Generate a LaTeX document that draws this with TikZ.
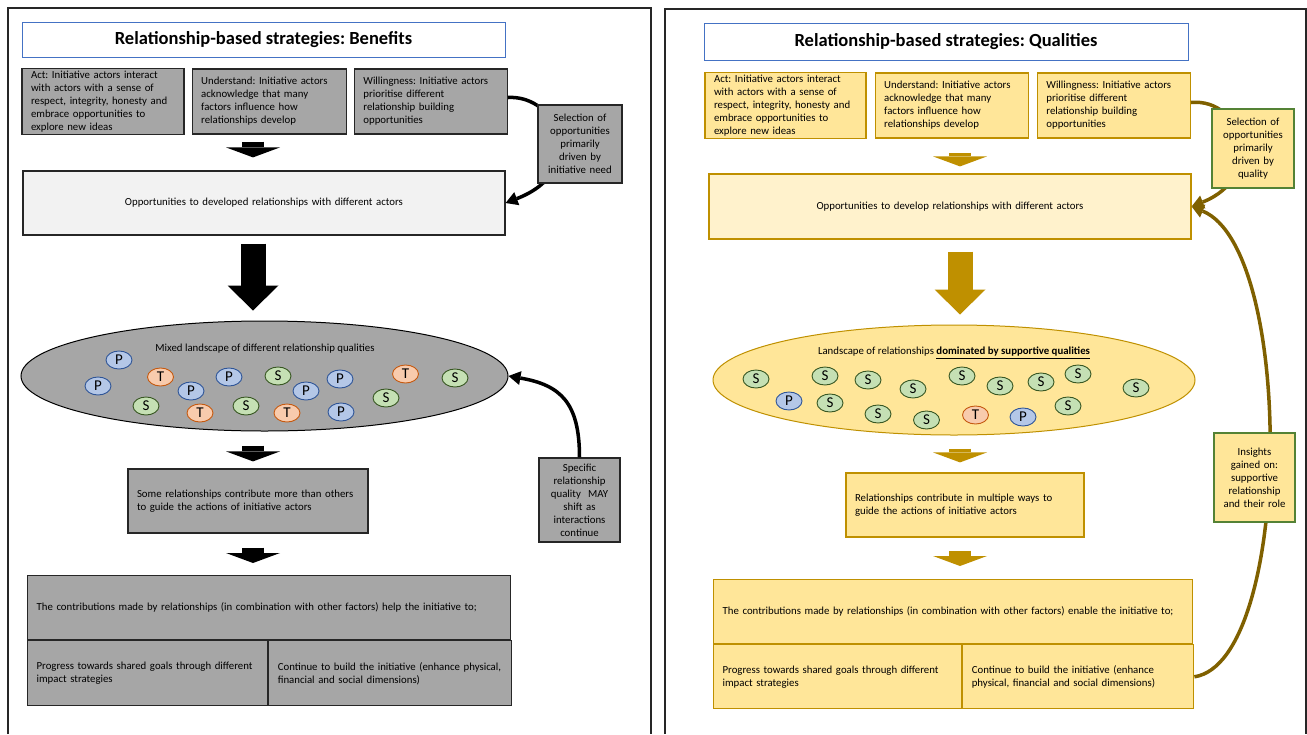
\documentclass[tikz,border=0pt]{standalone}
\usepackage{fontspec}
\setmainfont{Carlito}
\usepackage{xcolor}
\usetikzlibrary{shapes,arrows,positioning,calc,shapes.geometric,arrows.meta}
\frenchspacing

\definecolor{boxgray}{HTML}{A6A6A6}
\definecolor{oppgray}{HTML}{F2F2F2}
\definecolor{edgegray}{HTML}{262626}
\definecolor{titleblue}{HTML}{4472C4}
\definecolor{goldfill}{HTML}{FFE699}
\definecolor{creamfill}{HTML}{FFF2CC}
\definecolor{goldline}{HTML}{BF9000}
\definecolor{oliveline}{HTML}{7F6000}
\definecolor{sidegreen}{HTML}{548235}
\definecolor{pfill}{HTML}{B4C7E7}
\definecolor{pline}{HTML}{2F5597}
\definecolor{tfill}{HTML}{F8CBAD}
\definecolor{tline}{HTML}{C55A11}
\definecolor{sfill}{HTML}{C5E0B4}
\definecolor{sline}{HTML}{385723}

\begin{document}
\begin{tikzpicture}[x=1pt, y=1pt,
  txt/.style={font=\fontsize{10.8pt}{13pt}\selectfont},
  titlebox/.style={draw=titleblue, fill=white, line width=1pt, font=\fontsize{18.5pt}{21pt}\selectfont\bfseries},
  graybox/.style={draw=edgegray, fill=boxgray, rectangle, line width=1.2pt, txt, inner xsep=9pt, inner ysep=2pt, align=left},
  goldbox/.style={draw=goldline, fill=goldfill, rectangle, line width=1.2pt, txt, inner xsep=9pt, inner ysep=2pt, align=left},
  sidebox/.style={rectangle, line width=1.2pt, txt, inner xsep=4pt, inner ysep=2pt, align=center},
  qual/.style={ellipse, line width=0.9pt, minimum width=26pt, minimum height=18pt, inner sep=0pt, font=\fontsize{15pt}{15pt}\selectfont},
  pq/.style={qual, draw=pline, fill=pfill},
  tq/.style={qual, draw=tline, fill=tfill},
  sq/.style={qual, draw=sline, fill=sfill},
  smallarr/.style={line width=22pt, -{Triangle[width=54pt,length=10pt,line width=0pt]}},
  bigarr/.style={line width=25pt, -{Triangle[width=51pt,length=25pt,line width=0pt]}},
  curvearr/.style={line width=3.5pt, -{Triangle[width=14pt,length=12pt,line width=0pt]}}]

\useasboundingbox (0,0) rectangle (1307,-734);

% panel frames
\draw[line width=1.2pt, edgegray] (8,-734) |- (651,-8) -- (651,-734);
\draw[line width=1.2pt, edgegray] (665,-734) |- (1306,-9) -- (1306,-734);

\coordinate (ax1) at (253,0);
\coordinate (ax2) at (960,0);

%%% left panel: benefits
\node[titlebox, minimum width=483pt, minimum height=35pt] (title1) at (263.5,-39.5) {Relationship-based strategies: Benefits};

\node[graybox, text width=144pt, minimum height=65pt] (act1) at (103,-101.5) {Act: Initiative actors interact\\with actors with a sense of\\respect, integrity, honesty and\\embrace opportunities to\\explore new ideas};
\node[graybox, text width=136pt, minimum height=65pt, right=7pt of act1] (under1) {Understand: Initiative actors\\acknowledge that many\\factors influence how\\relationships develop};
\node[graybox, text width=135pt, minimum height=65pt, right=7pt of under1] (will1) {Willingness: Initiative actors\\prioritise different\\relationship building\\opportunities};

\node[graybox, fill=oppgray, align=center, text width=464pt, minimum height=64pt] (opps1) at (264,-203) {Opportunities to developed relationships with different actors};

\node[ellipse, draw=black, fill=boxgray, line width=1pt, minimum width=487pt, minimum height=110pt] (land1) at (264.5,-376) {};
\node[txt] (landtxt1) at (265,-349) {Mixed landscape of different relationship qualities};

\node[pq] (qa1) at (119,-360) {P};
\node[tq] (qa2) at (160.5,-377) {T};
\node[pq] (qa3) at (98,-386) {P};
\node[pq] (qa4) at (229,-377) {P};
\node[sq] (qa5) at (278,-376) {S};
\node[pq] (qa6) at (191,-391) {P};
\node[pq] (qa7) at (306,-391) {P};
\node[pq] (qa8) at (340,-379) {P};
\node[tq] (qa9) at (405.5,-374) {T};
\node[sq] (qa10) at (455,-378) {S};
\node[sq] (qa11) at (146,-406) {S};
\node[tq] (qa12) at (200,-413) {T};
\node[sq] (qa13) at (246,-406) {S};
\node[tq] (qa14) at (287,-413) {T};
\node[pq] (qa15) at (341,-412) {P};
\node[sq] (qa16) at (386,-398) {S};

\node[graybox, text width=222pt, minimum height=64pt] (some1) at (248,-501) {Some relationships contribute more than others\\to guide the actions of initiative actors};

\node[graybox, anchor=north west, text width=465pt, minimum height=64pt] (cont1) at (27,-575) {The contributions made by relationships (in combination with other factors) help the initiative to;};
\node[graybox, anchor=north west, text width=222pt, minimum height=65pt] (cont1a) at (cont1.south west) {Progress towards shared goals through different\\impact strategies};
\node[graybox, anchor=north west, text width=225pt, minimum height=65pt] (cont1b) at (cont1a.north east) {Continue to build the initiative (enhance physical,\\financial and social dimensions)};

\node[sidebox, draw=edgegray, fill=boxgray, text width=73pt, minimum height=84pt] (spec1) at (579.5,-500) {Specific\\relationship\\quality~ MAY\\shift as\\interactions\\continue};

\draw[smallarr, shorten <=7pt, shorten >=13pt] (under1.south -| ax1) -- (opps1.north -| ax1);
\draw[bigarr, shorten <=8pt, shorten >=10pt] (opps1.south -| ax1) -- (land1.north -| ax1);
\draw[smallarr, shorten <=14pt, shorten >=7pt] (land1.south -| ax1) -- (some1.north -| ax1);
\draw[smallarr, shorten <=14pt, shorten >=12pt] (some1.south -| ax1) -- (cont1.north -| ax1);

\draw[curvearr] ([yshift=4pt]will1.east) .. controls +(50,3) and +(85,33) .. (opps1.east);
\draw[curvearr] (spec1.north) .. controls +(0,55) and +(52,-9) .. (land1.east);

\node[sidebox, draw=edgegray, fill=boxgray, text width=76pt, minimum height=78pt] (sel1) at (580,-144) {Selection of\\opportunities\\primarily\\driven by\\initiative need};

%%% right panel: qualities
\node[titlebox, minimum width=484pt, minimum height=37pt] (title2) at (946,-41.5) {Relationship-based strategies: Qualities};

\node[goldbox, text width=143pt, minimum height=65pt] (act2) at (785.5,-105.5) {Act: Initiative actors interact\\with actors with a sense of\\respect, integrity, honesty and\\embrace opportunities to\\explore new ideas};
\node[goldbox, text width=135pt, minimum height=65pt, right=8pt of act2] (under2) {Understand: Initiative actors\\acknowledge that many\\factors influence how\\relationships develop};
\node[goldbox, text width=135pt, minimum height=65pt, right=8pt of under2] (will2) {Willingness: Initiative actors\\prioritise different\\relationship building\\opportunities};

\node[goldbox, fill=creamfill, align=center, text width=464pt, minimum height=65pt] (opps2) at (950,-206.5) {Opportunities to develop relationships with different actors};

\node[ellipse, draw=goldline, fill=goldfill, line width=1pt, minimum width=482pt, minimum height=110pt] (land2) at (954,-380) {};
\node[txt] (landtxt2) at (954,-353) {Landscape of relationships \textbf{\underline{dominated by supportive qualities}}};

\node[sq] (qb1) at (756,-379) {S};
\node[sq] (qb2) at (825,-376) {S};
\node[sq] (qb3) at (868,-380) {S};
\node[sq] (qb4) at (913,-389) {S};
\node[sq] (qb5) at (962,-376) {S};
\node[sq] (qb6) at (1000,-386) {S};
\node[sq] (qb7) at (1041,-382) {S};
\node[sq] (qb8) at (1078,-374) {S};
\node[sq] (qb9) at (1136,-388) {S};
\node[pq] (qb10) at (789,-401) {P};
\node[sq] (qb11) at (830,-403) {S};
\node[sq] (qb12) at (878,-414) {S};
\node[sq] (qb13) at (926.5,-420) {S};
\node[tq] (qb14) at (975.5,-415) {T};
\node[pq] (qb15) at (1023,-417) {P};
\node[sq] (qb16) at (1068,-406) {S};

\node[goldbox, text width=220pt, minimum height=64pt] (rel2) at (965,-505) {Relationships contribute in multiple ways to\\guide the actions of initiative actors};

\node[goldbox, anchor=north west, text width=461pt, minimum height=64pt] (cont2) at (713,-579) {The contributions made by relationships (in combination with other factors) enable the initiative to;};
\node[goldbox, anchor=north west, text width=230pt, minimum height=64pt] (cont2a) at (cont2.south west) {Progress towards shared goals through different\\impact strategies};
\node[goldbox, anchor=north west, text width=213pt, minimum height=64pt] (cont2b) at (cont2a.north east) {Continue to build the initiative (enhance\\physical, financial and social dimensions)};

\draw[smallarr, goldline, shorten <=14pt, shorten >=7pt] (under2.south -| ax2) -- (opps2.north -| ax2);
\draw[bigarr, goldline, shorten <=12pt, shorten >=10pt] (opps2.south -| ax2) -- (land2.north -| ax2);
\draw[smallarr, goldline, shorten <=13pt, shorten >=10pt] (land2.south -| ax2) -- (rel2.north -| ax2);
\draw[smallarr, goldline, shorten <=13pt, shorten >=13pt] (rel2.south -| ax2) -- (cont2.north -| ax2);

\draw[curvearr, oliveline] ([yshift=3pt]will2.east) .. controls +(52,5) and +(75,30) .. (opps2.east);
\draw[curvearr, oliveline] (cont2b.east) .. controls +(98,15) and +(104,-43) .. (opps2.east);

\node[sidebox, draw=sidegreen, fill=goldfill, text width=74pt, minimum height=79pt] (sel2) at (1253,-148.5) {Selection of\\opportunities\\primarily\\driven by\\quality};
\node[sidebox, draw=sidegreen, fill=goldfill, text width=73pt, minimum height=89pt] (ins2) at (1254.5,-477.5) {Insights\\gained on:\\supportive\\relationship\\and their role};

\end{tikzpicture}
\end{document}
